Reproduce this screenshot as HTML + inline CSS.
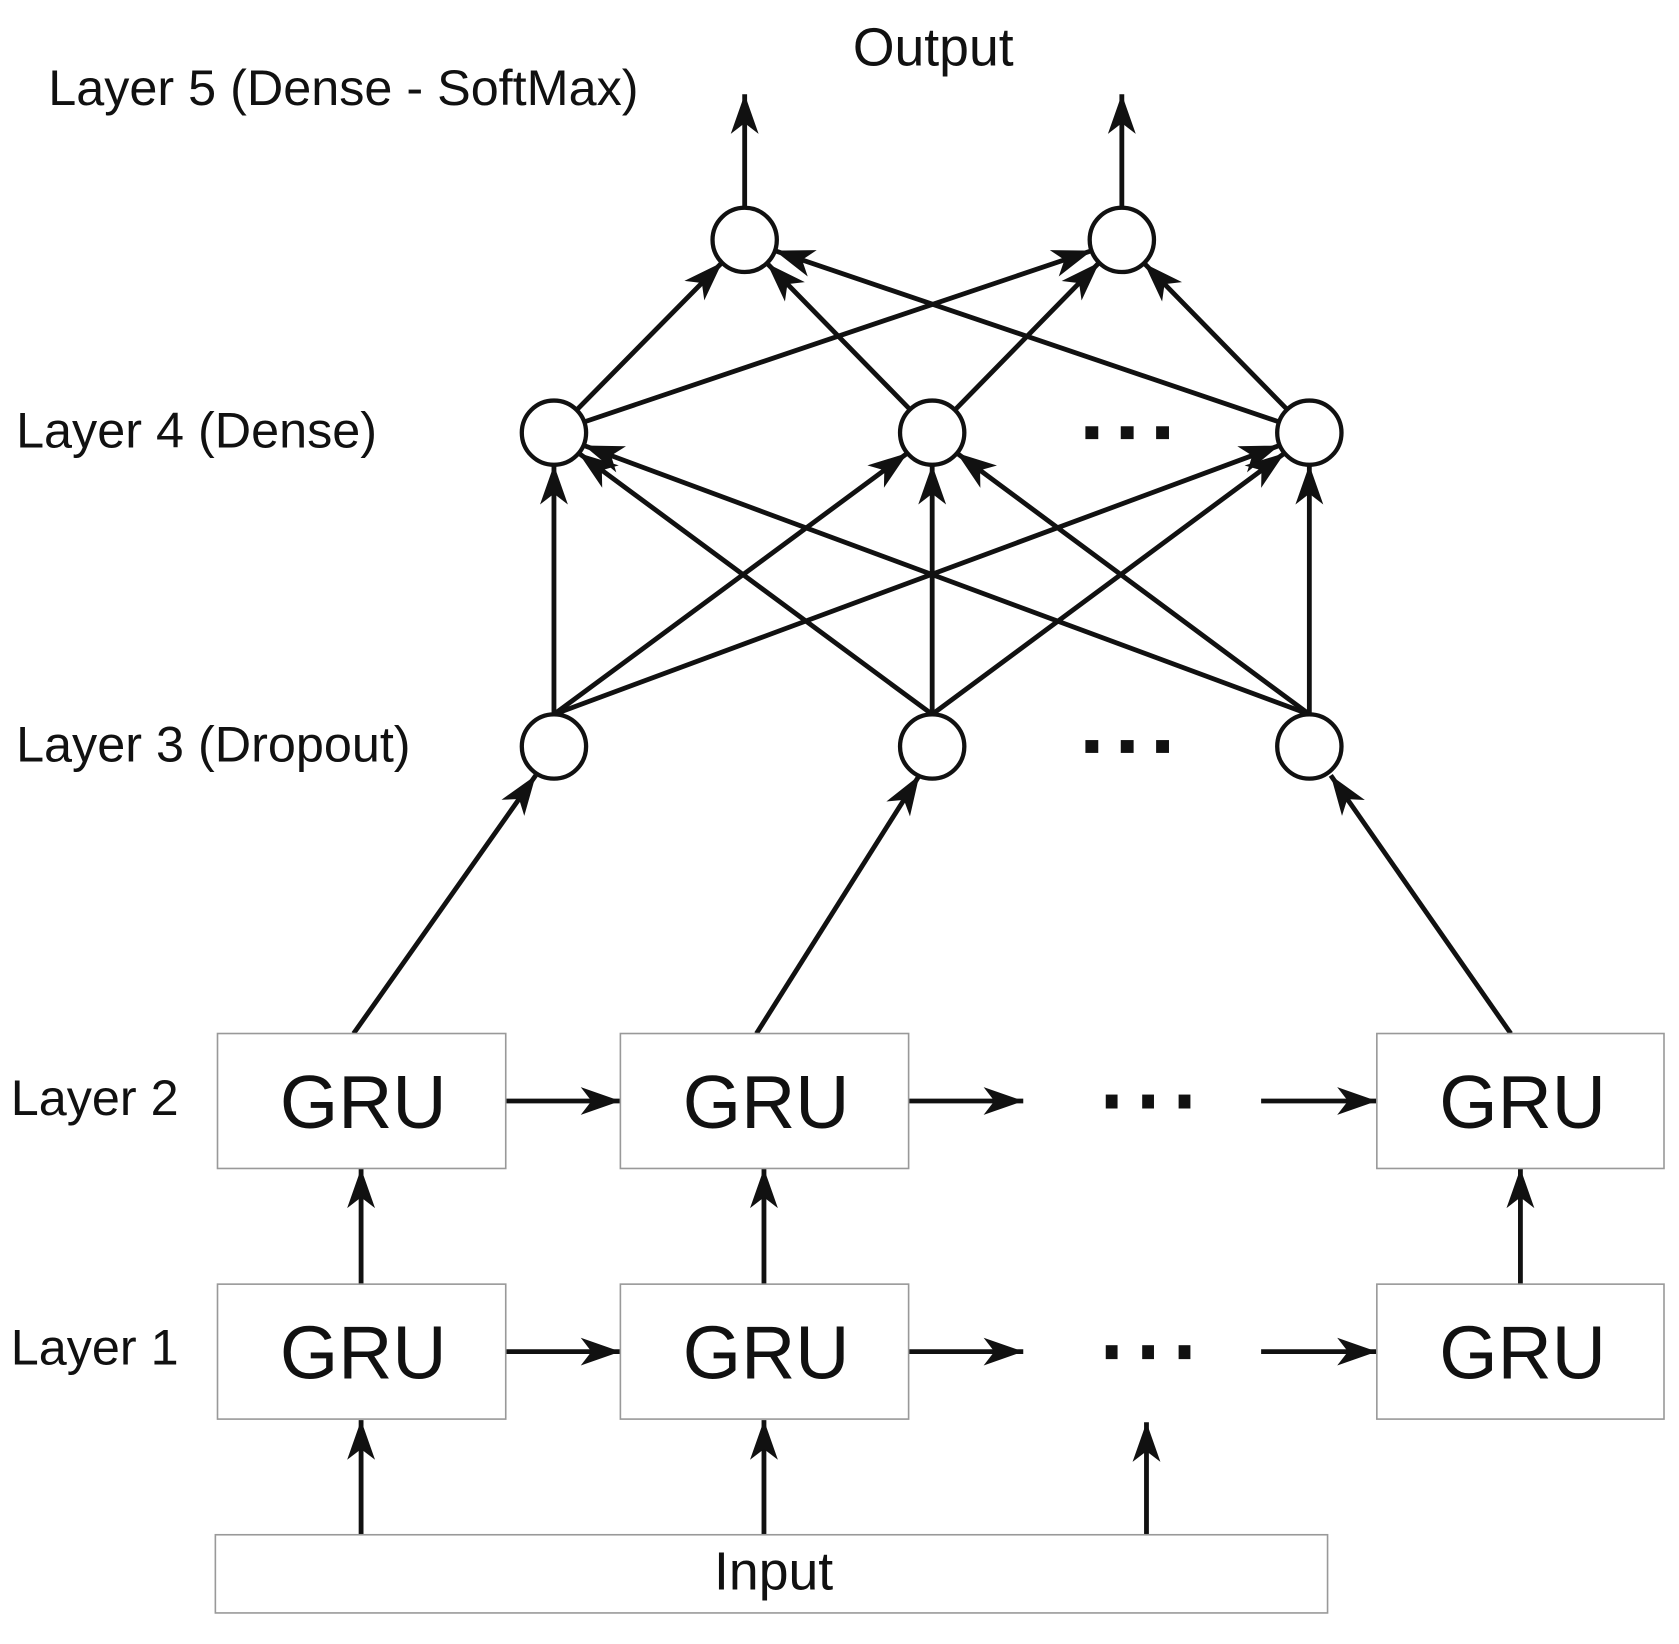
<!DOCTYPE html>
<html><head><meta charset="utf-8"><style>
html,body{margin:0;padding:0;background:#fff;}
svg{display:block}
text{font-family:"Liberation Sans",sans-serif;fill:#111;}
</style></head><body>
<svg width="1679" height="1644" viewBox="0 0 1567 1535" preserveAspectRatio="none" xmlns="http://www.w3.org/2000/svg">
<defs>
<marker id="a" markerUnits="userSpaceOnUse" markerWidth="40" markerHeight="30" viewBox="-38 -15 40 30" refX="0" refY="0" orient="auto">
<path d="M0,0 L-37,-13 L-27,0 L-37,13 Z" fill="#111"/>
</marker>
</defs>
<g stroke="#111" stroke-width="4.5" fill="none" marker-end="url(#a)">
<line x1="695" y1="193" x2="695" y2="88"/>
<line x1="1047" y1="193" x2="1047" y2="88"/>
<line x1="538" y1="383" x2="674" y2="245"/>
<line x1="545" y1="394" x2="1019" y2="234"/>
<line x1="849" y1="382" x2="716" y2="246"/>
<line x1="891" y1="383" x2="1026" y2="245"/>
<line x1="1194" y1="394" x2="723" y2="234"/>
<line x1="1201" y1="382" x2="1068" y2="246"/>
<line x1="517" y1="667" x2="517" y2="434"/>
<line x1="517" y1="667" x2="847" y2="423"/>
<line x1="517" y1="667" x2="1194" y2="416"/>
<line x1="870" y1="667" x2="540" y2="423"/>
<line x1="870" y1="667" x2="870" y2="434"/>
<line x1="870" y1="667" x2="1199" y2="423"/>
<line x1="1222" y1="667" x2="545" y2="416"/>
<line x1="1222" y1="667" x2="893" y2="423"/>
<line x1="1222" y1="667" x2="1222" y2="434"/>
<line x1="330" y1="965" x2="500" y2="724"/>
<line x1="706" y1="965" x2="858" y2="724"/>
<line x1="1410" y1="965" x2="1242" y2="724"/>
<line x1="472" y1="1028" x2="579" y2="1028"/>
<line x1="848" y1="1028" x2="955" y2="1028"/>
<line x1="1177" y1="1028" x2="1285" y2="1028"/>
<line x1="472" y1="1262" x2="579" y2="1262"/>
<line x1="848" y1="1262" x2="955" y2="1262"/>
<line x1="1177" y1="1262" x2="1285" y2="1262"/>
<line x1="337" y1="1199" x2="337" y2="1091"/>
<line x1="713" y1="1199" x2="713" y2="1091"/>
<line x1="1419" y1="1199" x2="1419" y2="1091"/>
<line x1="337" y1="1433" x2="337" y2="1326"/>
<line x1="713" y1="1433" x2="713" y2="1326"/>
<line x1="1070" y1="1433" x2="1070" y2="1328"/>
</g>
<g stroke="#111" stroke-width="4" fill="#fff">
<circle cx="695" cy="224" r="30"/><circle cx="1047" cy="224" r="30"/>
<circle cx="517" cy="404" r="30"/><circle cx="870" cy="404" r="30"/><circle cx="1222" cy="404" r="30"/>
<circle cx="517" cy="697" r="30"/><circle cx="870" cy="697" r="30"/><circle cx="1222" cy="697" r="30"/>
</g>
<g fill="#111">
<rect x="1013" y="398" width="12" height="12"/><rect x="1046" y="398" width="12" height="12"/><rect x="1079" y="398" width="12" height="12"/>
<rect x="1013" y="691" width="12" height="12"/><rect x="1046" y="691" width="12" height="12"/><rect x="1079" y="691" width="12" height="12"/>
<rect x="1032" y="1022" width="11" height="13"/><rect x="1066" y="1022" width="11" height="13"/><rect x="1100" y="1022" width="11" height="13"/>
<rect x="1032" y="1256" width="11" height="13"/><rect x="1066" y="1256" width="11" height="13"/><rect x="1100" y="1256" width="11" height="13"/>
</g>
<g stroke="#999" stroke-width="1.5" fill="#fff">
<rect x="203" y="965" width="269" height="126"/><rect x="579" y="965" width="269" height="126"/><rect x="1285" y="965" width="268" height="126"/>
<rect x="203" y="1199" width="269" height="126"/><rect x="579" y="1199" width="269" height="126"/><rect x="1285" y="1199" width="268" height="126"/>
<rect x="201" y="1433" width="1038" height="73"/>
</g>
<g font-size="70" text-anchor="middle">
<text x="339" y="1053">GRU</text><text x="715" y="1053">GRU</text><text x="1421" y="1053">GRU</text>
<text x="339" y="1287">GRU</text><text x="715" y="1287">GRU</text><text x="1421" y="1287">GRU</text>
</g>
<text x="722" y="1484" font-size="50" text-anchor="middle">Input</text>
<text x="871" y="61" font-size="50" text-anchor="middle">Output</text>
<text x="45" y="98" font-size="47">Layer 5 (Dense - SoftMax)</text>
<text x="15" y="418" font-size="47">Layer 4 (Dense)</text>
<text x="15" y="711" font-size="47">Layer 3 (Dropout)</text>
<text x="10" y="1041" font-size="47">Layer 2</text>
<text x="10" y="1274" font-size="47">Layer 1</text>
</svg>
</body></html>
